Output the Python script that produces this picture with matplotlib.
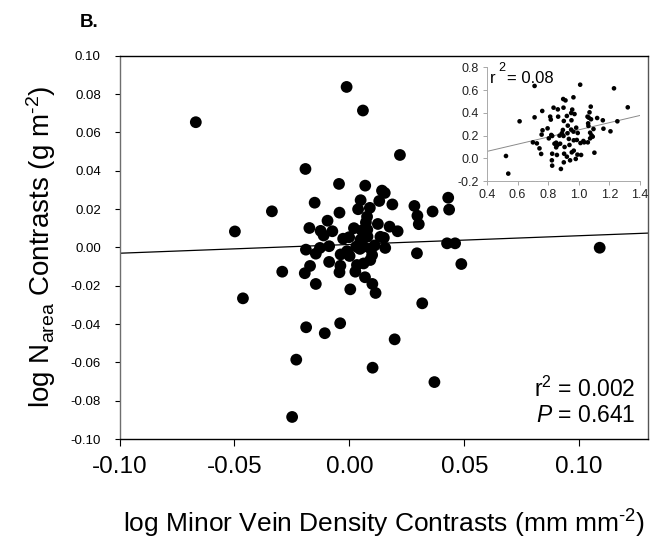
import matplotlib
matplotlib.use("Agg")
import matplotlib.pyplot as plt
import numpy as np

plt.rcParams['font.family'] = ['Liberation Sans', 'DejaVu Sans']
plt.rcParams['mathtext.fontset'] = 'custom'
plt.rcParams['mathtext.rm'] = 'Liberation Sans'
plt.rcParams['mathtext.it'] = 'Liberation Sans:italic'
plt.rcParams['axes.unicode_minus'] = False

# ---------------- main panel data ----------------
vein_contrast = [
    -0.0668, -0.0012, 0.0059, 0.0220, -0.0191, -0.0045, 0.0069, 0.0142, 0.0154, -0.0151,
    0.0049, 0.0130, 0.0187, 0.0283, 0.0430, 0.0434, 0.0362, 0.0296, 0.0302, -0.0337,
    -0.0043, 0.0038, 0.0089, -0.0095, 0.0077, 0.0072, 0.0124, 0.0175, 0.0210, -0.0174,
    -0.0125, -0.0112, -0.0074, -0.0498, 0.0054, 0.0078, 0.0135, -0.0027, -0.0001, 0.0048,
    0.0079, 0.0030, 0.0062, 0.0046, 0.0093, 0.0099, -0.0189, -0.0146, -0.0128, -0.0088,
    -0.0038, 0.0001, 0.0156, -0.0088, -0.0171, -0.0194, -0.0039, -0.0043, 0.0033, 0.0026,
    0.0062, 0.0091, 0.0068, 0.0100, 0.0114, -0.0146, 0.0004, -0.0292, -0.0463, -0.0188,
    -0.0107, -0.0040, -0.0231, 0.0101, -0.0249, 0.0197, 0.0370, 0.0317, 0.0294, 0.0425,
    0.0460, 0.0487, 0.1089, 0.0020, 0.0110, -0.0010, 0.0150,
]
narea_contrast = [
    0.0653, 0.0837, 0.0714, 0.0482, 0.0409, 0.0331, 0.0322, 0.0296, 0.0284, 0.0233,
    0.0246, 0.0242, 0.0224, 0.0216, 0.0259, 0.0197, 0.0187, 0.0165, 0.0121, 0.0188,
    0.0181, 0.0199, 0.0206, 0.0139, 0.0160, 0.0130, 0.0122, 0.0108, 0.0084, 0.0101,
    0.0086, 0.0062, 0.0084, 0.0083, 0.0088, 0.0092, 0.0055, 0.0045, 0.0053, 0.0039,
    0.0056, 0.0004, 0.0004, -0.0008, -0.0008, -0.0040, -0.0012, -0.0033, -0.0003, 0.0006,
    -0.0037, -0.0045, -0.0003, -0.0076, -0.0097, -0.0135, -0.0096, -0.0130, -0.0092, -0.0127,
    -0.0084, -0.0066, -0.0156, -0.0191, -0.0238, -0.0191, -0.0219, -0.0127, -0.0266, -0.0417,
    -0.0448, -0.0396, -0.0586, -0.0628, -0.0885, -0.0480, -0.0703, -0.0292, -0.0031, 0.0021,
    0.0021, -0.0087, -0.0002, 0.0100, 0.0010, -0.0020, 0.0050,
]
main_slope = 0.0457
main_intercept = 0.0015
main_r2_text = "r$^{2}$ = 0.002"
main_p_text = "$P$ = 0.641"
x_ticks = [-0.10, -0.05, 0.00, 0.05, 0.10]
x_tick_labels = ["-0.10", "-0.05", "0.00", "0.05", "0.10"]
y_ticks = [-0.10, -0.08, -0.06, -0.04, -0.02, 0.00, 0.02, 0.04, 0.06, 0.08, 0.10]
y_tick_labels = ["-0.10", "-0.08", "-0.06", "-0.04", "-0.02", "0.00",
                 "0.02", "0.04", "0.06", "0.08", "0.10"]

# ---------------- inset data ----------------
inset_vein = [
    0.524, 0.539, 0.613, 0.711, 0.711, 0.700, 0.726, 0.743, 0.754, 0.761,
    0.763, 0.757, 0.796, 0.813, 0.820, 0.826, 0.817, 0.835, 0.863, 0.865,
    0.852, 0.852, 0.826, 0.824, 0.826, 0.841, 0.861, 0.878, 0.857, 0.874,
    0.883, 0.898, 0.913, 0.900, 0.902, 0.896, 0.900, 0.907, 0.904, 0.902,
    0.922, 0.928, 0.926, 0.935, 0.939, 0.952, 0.957, 0.950, 0.965, 0.972,
    0.950, 0.965, 0.967, 0.967, 0.954, 0.943, 0.983, 0.987, 0.993, 0.991,
    0.980, 1.009, 1.011, 1.015, 1.030, 1.035, 1.057, 1.059, 1.074, 1.063,
    1.078, 1.070, 1.065, 1.080, 1.074, 1.083, 1.096, 1.091, 1.102, 1.120,
    1.157, 1.161, 1.207, 1.230, 1.252, 1.320, 1.061, 0.922, 0.804, 0.889,
]
inset_narea = [
    0.020, -0.135, 0.325, 0.636, 0.360, 0.140, 0.131, 0.087, 0.038, 0.416,
    0.246, 0.208, 0.263, 0.366, 0.205, 0.196, 0.340, 0.445, 0.430, 0.366,
    0.137, 0.096, 0.040, -0.018, -0.065, 0.128, 0.117, 0.128, 0.029, 0.199,
    -0.094, 0.521, 0.509, 0.445, 0.328, 0.249, 0.196, 0.099, 0.040, -0.036,
    0.372, 0.287, 0.220, 0.170, 0.117, 0.334, 0.428, 0.398, 0.536, 0.389,
    0.252, 0.234, 0.158, 0.067, 0.052, -0.018, 0.269, 0.161, 0.222, 0.032,
    -0.006, 0.647, 0.134, 0.029, 0.152, 0.140, 0.366, 0.140, 0.175, 0.284,
    0.454, 0.404, 0.357, 0.343, 0.225, 0.202, 0.257, 0.190, 0.049, 0.354,
    0.334, 0.260, 0.237, 0.615, 0.325, 0.448, 0.307, 0.014, 0.175, 0.220,
]
inset_slope = 0.316
inset_intercept = -0.066
inset_r2_value = "= 0.08"
inset_x_ticks = [0.4, 0.6, 0.8, 1.0, 1.2, 1.4]
inset_y_ticks = [-0.2, 0.0, 0.2, 0.4, 0.6, 0.8]

W, H = 654, 554
fig = plt.figure(figsize=(W / 100, H / 100), dpi=100)

# ---------------- main axes ----------------
L, R, T, B = 119.5, 647.5, 55.7, 439.0
ax = fig.add_axes([L / W, 1 - B / H, (R - L) / W, (B - T) / H])
ax.set_xlim(-0.10, 0.1297)
ax.set_ylim(-0.10, 0.10)

ax.scatter(vein_contrast, narea_contrast, s=72, color='black', edgecolors='none', zorder=3)
xs = np.array(ax.get_xlim())
ax.plot(xs, main_intercept + main_slope * xs, color='black', lw=0.9, zorder=2)

ax.set_xticks(x_ticks)
ax.set_xticklabels(x_tick_labels, fontsize=17.5)
ax.set_yticks(y_ticks)
ax.set_yticklabels(y_tick_labels, fontsize=9.5)
ax.tick_params(axis='x', direction='out', length=5, width=0.8, pad=7, colors='black')
ax.tick_params(axis='y', direction='out', length=3.5, width=0.8, pad=10, colors='black')

for side in ['top', 'bottom']:
    ax.spines[side].set_color('black')
    ax.spines[side].set_linewidth(1.0)
ax.spines['left'].set_color('#6e6e6e')
ax.spines['left'].set_linewidth(1.0)
ax.spines['right'].set_color('#555555')
ax.spines['right'].set_linewidth(1.0)

ax.set_xlabel(r"log Minor Vein Density Contrasts (mm mm$^{\text{-2}}$)", fontsize=19, labelpad=22)
ax.set_ylabel(r"log N$_{\mathrm{area}}$ Contrasts (g m$^{\text{-2}}$)", fontsize=20, labelpad=9)

ax.text(0.977, 0.11, main_r2_text, transform=ax.transAxes, ha='right', va='baseline', fontsize=16.5)
ax.text(0.977, 0.045, main_p_text, transform=ax.transAxes, ha='right', va='baseline', fontsize=16.5)

fig.text(80 / W, 1 - 27 / H, "B.", fontsize=13.5, fontweight='bold', ha='left', va='baseline')

# ---------------- inset axes ----------------
iL, iR, iT, iB = 487.0, 640.0, 67.3, 181.0
ins = fig.add_axes([iL / W, 1 - iB / H, (iR - iL) / W, (iB - iT) / H])
ins.set_xlim(0.4, 1.4)
ins.set_ylim(-0.2, 0.8)
ins.patch.set_alpha(0)
ins.scatter(inset_vein, inset_narea, s=11, color='black', edgecolors='none', zorder=3)
ixs = np.array(ins.get_xlim())
ins.plot(ixs, inset_intercept + inset_slope * ixs, color='#8a8a8a', lw=0.7, zorder=2)
ins.set_xticks(inset_x_ticks)
ins.set_xticklabels(["%.1f" % v for v in inset_x_ticks], fontsize=9, color='#222222')
ins.set_yticks(inset_y_ticks)
ins.set_yticklabels(["%.1f" % v for v in inset_y_ticks], fontsize=9, color='#222222')
ins.tick_params(direction='out', length=3, width=0.6, colors='#999999', labelcolor='#222222', pad=3)
for side in ['top', 'right']:
    ins.spines[side].set_visible(False)
for side in ['left', 'bottom']:
    ins.spines[side].set_color('#aaaaaa')
    ins.spines[side].set_linewidth(0.7)
ins.text(0.02, 0.86, "r", transform=ins.transAxes, fontsize=12, ha='left', va='baseline')
ins.text(0.075, 0.965, "2", transform=ins.transAxes, fontsize=9, ha='left', va='baseline')
ins.text(0.13, 0.86, inset_r2_value, transform=ins.transAxes, fontsize=12, ha='left', va='baseline')

fig.savefig("out.png", dpi=100)
